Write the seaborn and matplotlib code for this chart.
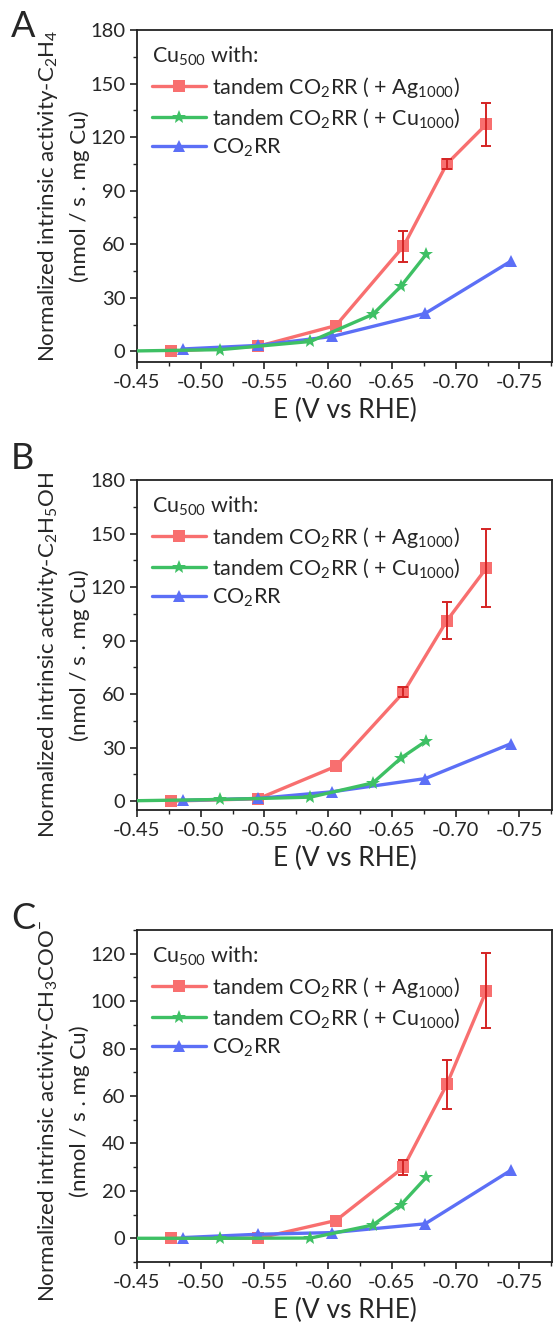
import numpy as np
import pandas as pd
import seaborn as sns
import matplotlib.pyplot as plt
from matplotlib.ticker import MultipleLocator

sns.set_style("ticks")
plt.rcParams['font.family'] = ['Lato', 'DejaVu Sans']
plt.rcParams['mathtext.fontset'] = 'custom'
plt.rcParams['mathtext.rm'] = 'Lato'
plt.rcParams['mathtext.it'] = 'Lato:italic'

# potentials (V vs RHE)
x_ag = [-0.477, -0.545, -0.606, -0.659, -0.693, -0.724]
x_cu = [-0.43, -0.515, -0.586, -0.635, -0.657, -0.677]
x_co2 = [-0.486, -0.545, -0.603, -0.676, -0.743]

# panel A: C2H4
a_ag = [0, 2.8, 14.4, 58.8, 105, 127.2]
a_ag_err = [0, 0, 0, 8.5, 3, 12]
a_cu = [0, 0.9, 5.5, 20.7, 36.4, 54.5]
a_co2 = [1.3, 3.3, 8.3, 21.2, 50.4]

# panel B: C2H5OH
b_ag = [0, 1.3, 19.5, 60.9, 101.1, 130.6]
b_ag_err = [0, 0, 0, 2.8, 10.5, 21.8]
b_cu = [0, 0.9, 2.2, 10.2, 24.1, 33.8]
b_co2 = [0.4, 1.5, 5.2, 12.6, 32.1]

# panel C: CH3COO-
c_ag = [0, 0, 7.5, 29.9, 64.9, 104.4]
c_ag_err = [0, 0, 0, 3.3, 10.2, 15.7]
c_cu = [0, 0, 0.1, 5.6, 14.1, 25.8]
c_co2 = [0.3, 1.7, 2.4, 6.1, 28.6]

labels = ["tandem CO$_2$RR ( + Ag$_{1000}$)",
          "tandem CO$_2$RR ( + Cu$_{1000}$)",
          "CO$_2$RR"]
colors = ['#F86F6F', '#3EC064', '#5C6FF6']
markers = ['s', '*', '^']
msizes = [8, 10, 9]

panels = [
    ("A", "Normalized intrinsic activity-C$_2$H$_4$", a_ag, a_ag_err, a_cu, a_co2, (-6, 180), 30, 15, 0.5),
    ("B", "Normalized intrinsic activity-C$_2$H$_5$OH", b_ag, b_ag_err, b_cu, b_co2, (-5, 180), 30, 15, 0.47),
    ("C", "Normalized intrinsic activity-CH$_3$COO$^{-}$", c_ag, c_ag_err, c_cu, c_co2, (-10, 130), 20, 10, 0.455),
]
# axes boxes in pixels: top, bottom
boxes = [(30, 362), (480, 810), (930, 1262)]
letter_y = [10, 442, 902]
W, H = 553, 1333
left, right = 137, 552

fig = plt.figure(figsize=(W / 100, H / 100), dpi=100)

for (letter, ylab, ag, ag_err, cu, co2, ylim, major, minor, ypos), (top, bot), ly in zip(panels, boxes, letter_y):
    ax = fig.add_axes([left / W, 1 - bot / H, (right - left) / W, (bot - top) / H])
    series = [(x_ag, ag), (x_cu, cu), (x_co2, co2)]
    order = [0, 2, 1]
    for i in order:
        xs, ys = series[i]
        df = pd.DataFrame({"E": xs, "v": ys})
        sns.lineplot(data=df, x="E", y="v", ax=ax, color=colors[i], marker=markers[i],
                     markersize=msizes[i], markeredgewidth=0, linewidth=2.4,
                     label=labels[i], zorder=3 if i != 1 else 4)
    ax.errorbar(x_ag[3:], ag[3:], yerr=ag_err[3:], fmt='none', ecolor='#D42424',
                elinewidth=1.4, capsize=3.5, capthick=1.4, zorder=5)

    ax.set_xlim(-0.45, -0.7755)
    ax.set_ylim(*ylim)
    ax.xaxis.set_major_locator(MultipleLocator(0.05))
    ax.xaxis.set_minor_locator(MultipleLocator(0.025))
    ax.yaxis.set_major_locator(MultipleLocator(major))
    ax.yaxis.set_minor_locator(MultipleLocator(minor))
    ax.set_xticklabels([f"{t:.2f}" for t in ax.get_xticks()])
    ax.tick_params(which='major', direction='out', length=5, width=1.2, labelsize=14.5, color='#222222')
    ax.tick_params(which='minor', direction='out', length=3, width=1.0, color='#222222')
    for s in ax.spines.values():
        s.set_linewidth(1.3)
        s.set_color('#222222')
    ax.set_xlabel("E (V vs RHE)", fontsize=19, labelpad=5)
    ax.set_ylabel(ylab + "\n(nmol / s . mg Cu)", fontsize=16, linespacing=1.55)
    ax.yaxis.set_label_coords(-0.113, ypos)

    # legend in original order
    h, l = ax.get_legend_handles_labels()
    idx = [l.index(lab) for lab in labels]
    leg = ax.legend([h[k] for k in idx], [l[k] for k in idx], loc='upper left',
                    title="Cu$_{500}$ with:", title_fontsize=15.5, fontsize=15.5,
                    frameon=False, handlelength=2.5, handletextpad=0.3,
                    labelspacing=0.3, borderaxespad=0.3, alignment='left',
                    bbox_to_anchor=(0.0, 1.0))

    fig.text(11 / W, 1 - ly / H, letter, fontsize=26, va='top', ha='left')

fig.savefig("out.png", dpi=100)
